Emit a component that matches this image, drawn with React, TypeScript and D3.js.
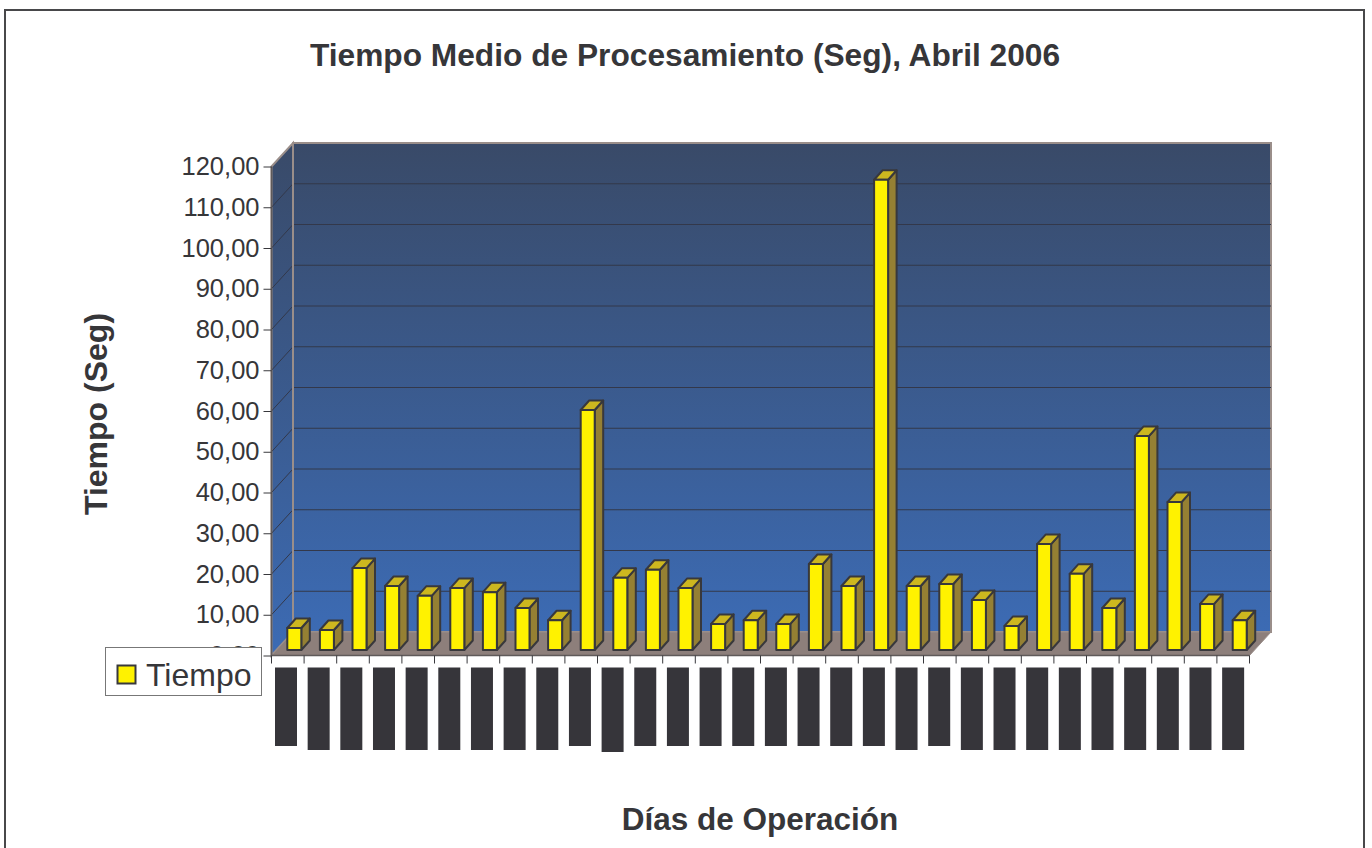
import React, { useEffect, useRef } from 'react';
import * as d3 from 'd3';

const chartTitle = 'Tiempo Medio de Procesamiento (Seg), Abril 2006';
const xTitle = 'Días de Operación';
const yTitle = 'Tiempo (Seg)';
const seriesName = 'Tiempo';

const days = d3.range(1, 31).map(d => String(d));
const tiempo = [
  5.4, 4.9, 20.1, 15.7, 13.3, 15.2, 14.2, 10.3, 7.3, 58.9,
  17.7, 19.7, 15.2, 6.4, 7.3, 6.4, 21.1, 15.7, 115.4, 15.7,
  16.2, 12.3, 5.9, 26, 18.7, 10.3, 52.5, 36.3, 11.3, 7.3,
];
// the day labels are blacked out in the source, only their length can be told apart
const labelLength = [
  'b', 'c', 'c', 'c', 'c', 'c', 'c', 'c', 'c', 'b',
  'd', 'b', 'b', 'b', 'b', 'b', 'b', 'b', 'b', 'c',
  'b', 'c', 'c', 'c', 'c', 'c', 'c', 'c', 'c', 'c',
];
const yTicks = d3.range(0, 130, 10);

const App = () => {
  const svgRef = useRef<SVGSVGElement>(null);

  useEffect(() => {
    const svg = d3.select(svgRef.current);
    svg.selectAll('*').remove();
    svg.style('font-family', '"Liberation Sans", Arial, sans-serif');

    const left = 271.5, right = 1249.5, base = 655.5, top = 166.5;
    const depthX = 21.5, depthY = 23.5;

    const x = d3.scaleBand().domain(days).range([left, right]);
    const labelX = d3.scaleBand().domain(days).range([275, 275 + 32.66 * 30]);
    const y = d3.scaleLinear().domain([0, 120]).range([base, top]);
    const fmt = (v: number) => v.toFixed(2).replace('.', ',');

    // frame
    svg.append('rect').attr('x', 5).attr('y', 10).attr('width', 1359).attr('height', 842)
      .attr('fill', '#fff').attr('stroke', '#48484a').attr('stroke-width', 2);

    svg.append('text').attr('x', 685).attr('y', 66).attr('text-anchor', 'middle')
      .attr('font-size', 31.7).attr('font-weight', 'bold').attr('fill', '#363639')
      .text(chartTitle);
    svg.append('text').attr('x', 760).attr('y', 830).attr('text-anchor', 'middle')
      .attr('font-size', 31.5).attr('font-weight', 'bold').attr('fill', '#363639')
      .text(xTitle);
    svg.append('text').attr('transform', 'translate(107,414) rotate(-90)').attr('text-anchor', 'middle')
      .attr('font-size', 32).attr('font-weight', 'bold').attr('fill', '#363639')
      .text(yTitle);

    // back wall gradient
    const defs = svg.append('defs');
    const grad = defs.append('linearGradient').attr('id', 'wall').attr('x1', 0).attr('x2', 0).attr('y1', 0).attr('y2', 1);
    grad.append('stop').attr('offset', '0%').attr('stop-color', '#394a68');
    grad.append('stop').attr('offset', '100%').attr('stop-color', '#3c6bb4');

    const wallStroke = '#9a8e8a';
    const poly = (pts: number[][]) => d3.line()(pts as [number, number][]) + 'Z';

    svg.append('path')
      .attr('d', poly([[left + depthX, top - depthY], [right + depthX, top - depthY], [right + depthX, base - depthY], [left + depthX, base - depthY]]))
      .attr('fill', 'url(#wall)').attr('stroke', wallStroke).attr('stroke-width', 2);
    // side wall
    svg.append('path')
      .attr('d', poly([[left, top], [left + depthX, top - depthY], [left + depthX, base - depthY], [left, base]]))
      .attr('fill', 'url(#wall)').attr('stroke', wallStroke).attr('stroke-width', 2);
    // floor
    svg.append('path')
      .attr('d', poly([[left, base], [left + depthX, base - depthY], [right + depthX, base - depthY], [right, base]]))
      .attr('fill', '#8d7f7b').attr('stroke', wallStroke).attr('stroke-width', 1);

    // grid lines, running round the side wall and across the back
    const grid = svg.append('g').attr('fill', 'none').attr('stroke', '#33384a').attr('stroke-width', 1);
    yTicks.filter(t => t > 0 && t < 120).forEach(t => {
      grid.append('path').attr('d', d3.line()([
        [left, y(t)],
        [left + depthX, y(t) - depthY],
        [right + depthX, y(t) - depthY],
      ]));
    });
    // back wall edge goes over the grid ends
    svg.append('line')
      .attr('x1', left + depthX).attr('x2', left + depthX)
      .attr('y1', top - depthY).attr('y2', base - depthY)
      .attr('stroke', wallStroke).attr('stroke-width', 2);
    svg.append('line')
      .attr('x1', left).attr('x2', left)
      .attr('y1', top).attr('y2', base)
      .attr('stroke', '#5f5a5a').attr('stroke-width', 1.5);

    // axes
    const yAxis = svg.append('g').attr('transform', `translate(${left},0)`)
      .call(d3.axisLeft(y).tickValues(yTicks).tickFormat(d => fmt(d as number)).tickSize(8).tickPadding(4));
    yAxis.select('.domain').remove();
    yAxis.selectAll('.tick line').attr('stroke', '#38383c').attr('stroke-width', 1);
    yAxis.selectAll('.tick text').attr('font-size', 25.5).attr('font-family', '"Liberation Sans", Arial, sans-serif').attr('fill', '#363639');

    const xEdges = days.map(d => x(d) as number).concat(right);
    svg.append('line').attr('x1', left).attr('x2', right).attr('y1', base).attr('y2', base)
      .attr('stroke', '#5f5a5a').attr('stroke-width', 1.5);
    svg.append('g').selectAll('line').data(xEdges).join('line')
      .attr('x1', d => d).attr('x2', d => d).attr('y1', base).attr('y2', base + 8)
      .attr('stroke', '#38383c').attr('stroke-width', 1);

    // bars
    const barBase = base - 5.5;
    const bw = 14, dx = 8.5, dy = 9.5;
    const h = (v: number) => (y(0) - y(v));
    const bars = svg.append('g').attr('stroke', '#38383c').attr('stroke-width', 2).attr('stroke-linejoin', 'round');
    days.forEach((d, i) => {
      const x0 = (x(d) as number) + x.bandwidth() / 2 - 0.5;
      const x1 = x0 + bw;
      const y1 = barBase - h(tiempo[i]);
      bars.append('path').attr('d', poly([[x1, y1], [x1 + dx, y1 - dy], [x1 + dx, barBase - dy], [x1, barBase]])).attr('fill', '#958033');
      bars.append('path').attr('d', poly([[x0, y1], [x0 + dx, y1 - dy], [x1 + dx, y1 - dy], [x1, y1]])).attr('fill', '#cdb71f');
      bars.append('rect').attr('x', x0).attr('y', y1).attr('width', bw).attr('height', barBase - y1).attr('fill', '#fff200');
    });

    // blacked out day labels
    const labelH = d3.scaleOrdinal<string, number>().domain(['b', 'c', 'd']).range([78.5, 82.5, 84.5]);
    svg.append('g').selectAll('rect').data(days).join('rect')
      .attr('x', d => labelX(d) as number)
      .attr('y', 667.5)
      .attr('width', 22)
      .attr('height', (_, i) => labelH(labelLength[i]))
      .attr('fill', '#36353a');

    // legend
    svg.append('rect').attr('x', 105.5).attr('y', 647.5).attr('width', 156).attr('height', 48)
      .attr('fill', '#fff').attr('stroke', '#777').attr('stroke-width', 1);
    svg.append('rect').attr('x', 117.5).attr('y', 665.5).attr('width', 18).attr('height', 18)
      .attr('fill', '#fff200').attr('stroke', '#38383c').attr('stroke-width', 2);
    svg.append('text').attr('x', 146).attr('y', 686).attr('font-size', 32).attr('fill', '#363639').text(seriesName);
  }, []);

  return <svg ref={svgRef} width={1372} height={848} style={{ position: 'absolute', left: 0, top: 0 }} />;
};

export default App;
